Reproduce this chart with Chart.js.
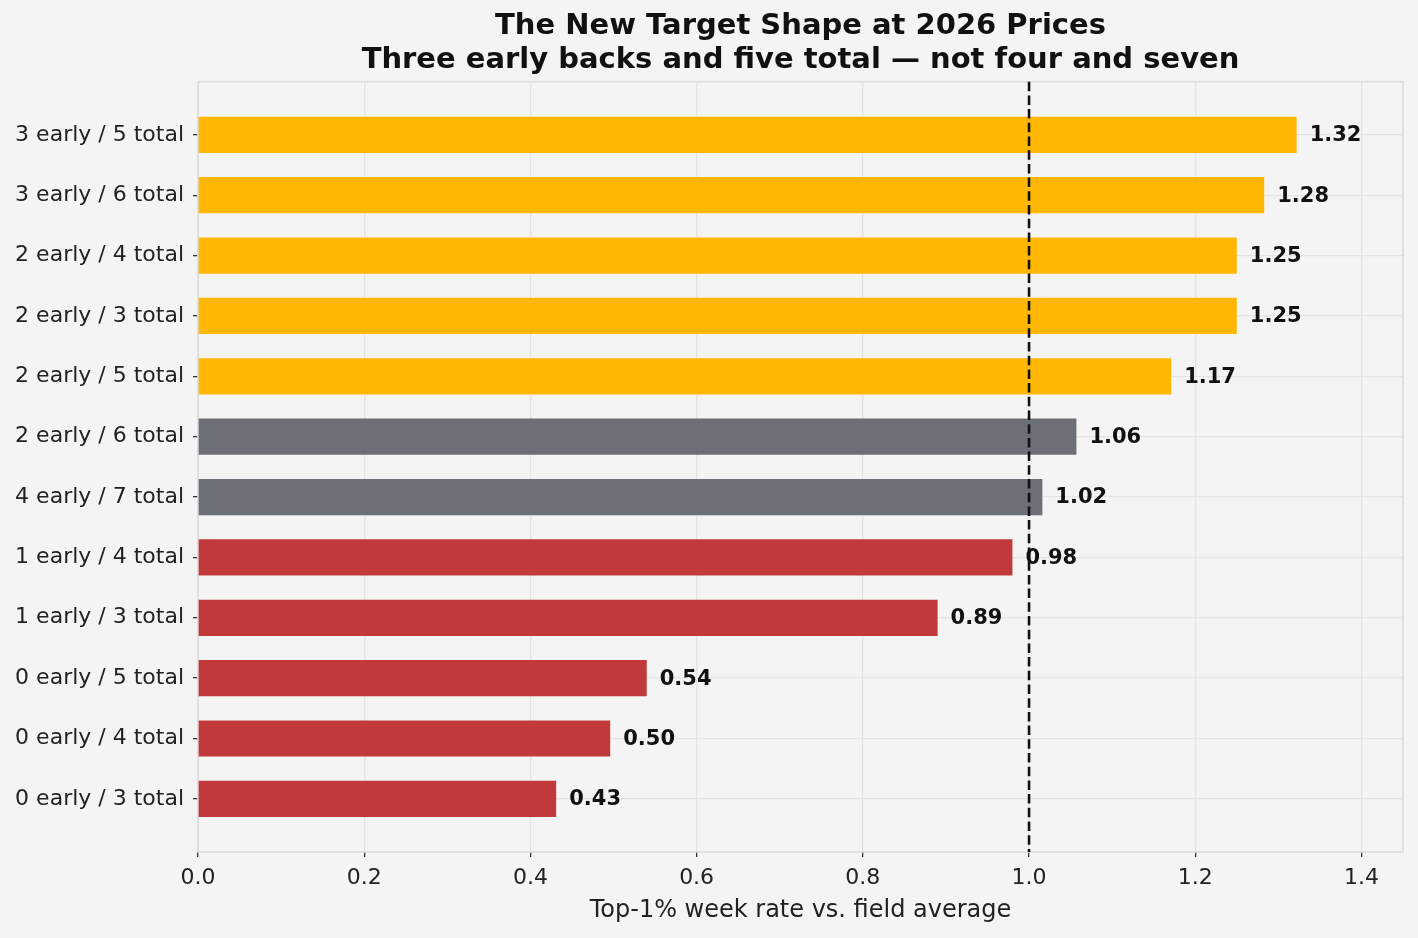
<!DOCTYPE html>
<html>
<head>
<meta charset="utf-8">
<script src="https://cdn.jsdelivr.net/npm/chart.js@4/dist/chart.umd.min.js"></script>
<style>
  html, body { margin: 0; padding: 0; background: #f4f4f4; }
  #wrap { width: 1418px; height: 938px; }
</style>
</head>
<body>
<div id="wrap"><canvas id="chart"></canvas></div>
<script>
// Shapes ranked top to bottom
const categories = [
  "3 early / 5 total", "3 early / 6 total", "2 early / 4 total", "2 early / 3 total",
  "2 early / 5 total", "2 early / 6 total", "4 early / 7 total", "1 early / 4 total",
  "1 early / 3 total", "0 early / 5 total", "0 early / 4 total", "0 early / 3 total",
];
const rates = [1.322, 1.283, 1.250, 1.250, 1.171, 1.057, 1.016, 0.980, 0.890, 0.540, 0.496, 0.431];
const groups = ["top", "top", "top", "top", "top", "mid", "mid", "low", "low", "low", "low", "low"];
const xTicks = [0, 0.2, 0.4, 0.6, 0.8, 1.0, 1.2, 1.4];
const referenceLine = 1.0;

const groupColors = { top: "#FFB703", mid: "#6C6F77", low: "#C1393B" };
const FONT = "'DejaVu Sans', sans-serif";

// frame, dashed reference line and value labels
const overlay = {
  id: "overlay",
  beforeDatasetsDraw(chart) {
    const { ctx, chartArea: a } = chart;
    ctx.save();
    ctx.strokeStyle = "#dcdcdc";
    ctx.lineWidth = 1.6;
    ctx.strokeRect(a.left, a.top, a.right - a.left, a.bottom - a.top);
    ctx.restore();
  },
  afterDatasetsDraw(chart) {
    const { ctx, chartArea: a, scales } = chart;
    const x1 = scales.x.getPixelForValue(referenceLine);
    ctx.save();
    ctx.strokeStyle = "#111";
    ctx.lineWidth = 2.6;
    ctx.setLineDash([9.5, 4.2]);
    ctx.beginPath();
    ctx.moveTo(x1, a.top);
    ctx.lineTo(x1, a.bottom);
    ctx.stroke();
    ctx.setLineDash([]);

    ctx.fillStyle = "#111";
    ctx.font = "bold 21px " + FONT;
    ctx.textAlign = "left";
    ctx.textBaseline = "middle";
    rates.forEach((v, i) => {
      const px = scales.x.getPixelForValue(v);
      const py = scales.y.getPixelForValue(i);
      ctx.fillText(v.toFixed(2), px + 13, py + 1);
    });
    ctx.restore();
  },
};

new Chart(document.getElementById("chart"), {
  type: "bar",
  data: {
    datasets: [{
      data: rates.map((v, i) => ({ x: v, y: i })),
      backgroundColor: groups.map(g => groupColors[g]),
      borderWidth: 0,
      barPercentage: 0.6,
      categoryPercentage: 1.0,
    }],
  },
  options: {
    indexAxis: "y",
    responsive: true,
    maintainAspectRatio: false,
    animation: false,
    layout: { padding: { left: 0, right: 15, top: 0, bottom: 0 } },
    plugins: {
      legend: { display: false },
      tooltip: { enabled: false },
      title: {
        display: true,
        fullSize: false,
        text: ["The New Target Shape at 2026 Prices", "Three early backs and five total \u2014 not four and seven"],
        color: "#111",
        font: { family: FONT, size: 29, weight: "bold", lineHeight: 1.15 },
        padding: { top: 10, bottom: 5 },
      },
    },
    scales: {
      x: {
        type: "linear",
        min: 0,
        max: 1.45,
        afterBuildTicks(scale) { scale.ticks = xTicks.map(v => ({ value: v })); },
        afterFit(scale) { scale.height = 86; },
        ticks: {
          color: "#222",
          font: { family: FONT, size: 22 },
          padding: 8,
          callback: v => v.toFixed(1),
        },
        grid: { color: "#e4e4e4", lineWidth: 1.3, tickColor: "#333", tickLength: 5, tickWidth: 1.3 },
        border: { display: false },
        title: {
          display: true,
          text: "Top-1% week rate vs. field average",
          color: "#222",
          font: { family: FONT, size: 24 },
          padding: { top: 0, bottom: 13 },
        },
      },
      y: {
        type: "linear",
        reverse: true,
        offset: false,
        min: -0.88,
        max: 11.88,
        afterBuildTicks(scale) { scale.ticks = categories.map((c, i) => ({ value: i })); },
        afterFit(scale) { scale.width = 198; },
        ticks: {
          color: "#222",
          font: { family: FONT, size: 22 },
          padding: 9,
          autoSkip: false,
          callback: v => categories[v],
        },
        grid: { offset: false, color: "#e4e4e4", lineWidth: 1.3, tickColor: "#333", tickLength: 5, tickWidth: 1.3 },
        border: { display: false },
      },
    },
  },
  plugins: [overlay],
});
</script>
</body>
</html>
